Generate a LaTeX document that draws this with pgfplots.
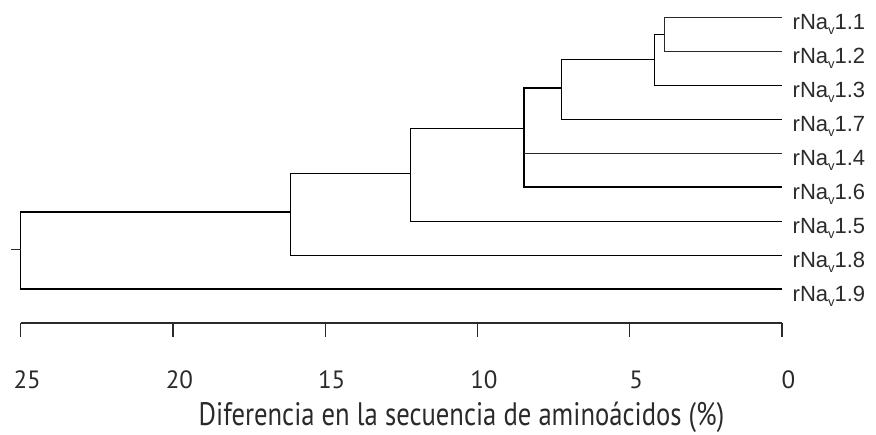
\documentclass[border=0pt]{standalone}
\usepackage{pgfplots}
\pgfplotsset{compat=1.18}
\usepackage{fontspec}
\setmainfont{PT Sans}
\newfontfamily\arialf{Liberation Sans}
\definecolor{dline}{HTML}{2A2A2A}
\newcommand{\nav}[1]{{\arialf\fontsize{22}{22}\selectfont rNa\raisebox{-0.22em}{\fontsize{13}{13}\selectfont v}#1}}
\begin{document}
\begin{tikzpicture}
\begin{axis}[
  scale only axis, width=761.3pt, height=322.7pt,
  xmin=0, xmax=25, x dir=reverse,
  ymin=-9.989, ymax=-0.509,
  axis y line=none, axis x line*=bottom,
  x axis line style={-, line width=1.8pt, color=dline},
  xtick={0,5,10,15,20,25}, xtick pos=left,
  tick align=outside, major tick length=14pt,
  xtick style={line width=1.4pt, color=dline},
  /pgf/number format/assume math mode=true,
  xticklabel style={font=\fontsize{25}{25}\selectfont, anchor=base, yshift=-51.3pt, xshift=6.5pt, text=dline},
  xlabel={\scalebox{0.82}[1]{\fontsize{32.5}{33}\selectfont Diferencia en la secuencia de amino\'acidos (\%)}},
  xlabel style={at={(axis description cs:0.579,0)}, anchor=base, yshift=-102.8pt, text=dline},
  clip=false,
  cycle list={{dline, mark=none, solid, line width=1.6pt}},
]
% A: rNav1.1 + rNav1.2
\addplot coordinates {(0,-1) (3.88,-1) (3.88,-2) (0,-2)};
% B: A + rNav1.3
\addplot coordinates {(3.88,-1.5) (4.2,-1.5) (4.2,-3) (0,-3)};
% C: B + rNav1.7
\addplot coordinates {(4.2,-2.25) (7.26,-2.25) (7.26,-4) (0,-4)};
% E: C + rNav1.4 + rNav1.6
\addplot coordinates {(7.26,-3.1) (8.48,-3.1) (8.48,-6) (0,-6)};
\addplot coordinates {(8.48,-5) (0,-5)};
% F: E + rNav1.5
\addplot coordinates {(8.48,-4.28) (12.2,-4.28) (12.2,-7) (0,-7)};
% G: F + rNav1.8
\addplot coordinates {(12.2,-5.59) (16.16,-5.59) (16.16,-8) (0,-8)};
% Root: G + rNav1.9
\addplot coordinates {(16.16,-6.73) (25,-6.73) (25,-9) (0,-9)};
\addplot coordinates {(25,-7.82) (25.33,-7.82)};
% leaf labels
\foreach \i/\t in {1/1.1,2/1.2,3/1.3,4/1.7,5/1.4,6/1.6,7/1.5,8/1.8,9/1.9}{
  \edef\tmp{\noexpand\node[anchor=base west, inner sep=0pt, xshift=10.5pt, yshift=-12.5pt, text=dline] at (axis cs:0,-\i) {\noexpand\nav{\t}};}
  \tmp
}
\end{axis}
\pgfresetboundingbox
\path[use as bounding box] (-20.7pt,-111.3pt) rectangle (855.3pt,322.7pt);
\end{tikzpicture}
\end{document}
